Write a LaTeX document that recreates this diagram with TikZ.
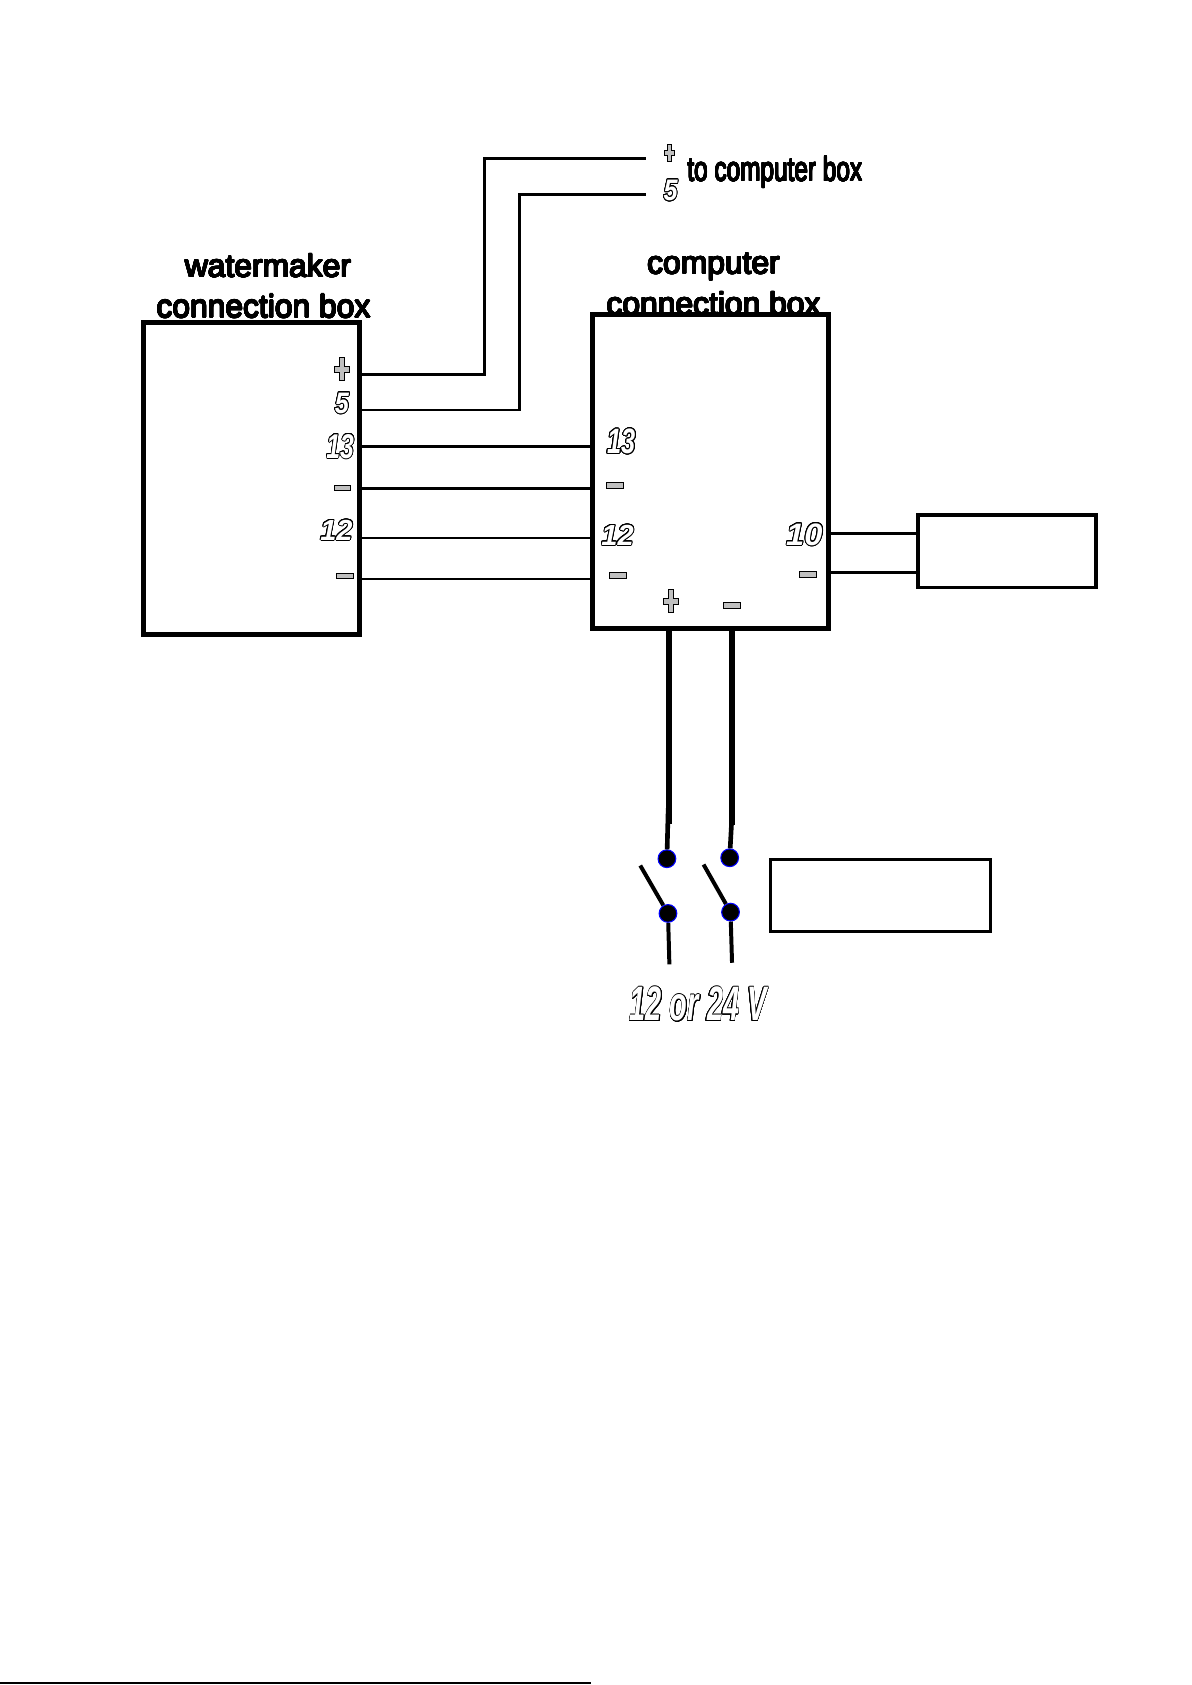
\documentclass[tikz,border=0pt]{standalone}
\usepackage{fontspec}
\setmainfont{Liberation Sans}
\usepackage{graphicx}
\usepackage{contour}
\contournumber{24}
\definecolor{termgray}{HTML}{C0C0C0}
\definecolor{dotblue}{HTML}{0000FF}
\newcommand{\outlbl}[3]{{\fontsize{#1}{#1}\selectfont\bfseries\itshape\contourlength{0.85pt}\scalebox{#2}[1]{\textcolor{white}{\contour{black}{#3}}}}}
\newcommand{\ttl}[2]{{\fontsize{#1}{#1}\selectfont\contourlength{0.55pt}\contour{black}{#2}}}
\tikzset{
  wire/.style={line width=2.6pt},
  boxline/.style={draw=black, line width=4.5pt, fill=white, rectangle, inner sep=0pt},
  thinbox/.style={draw=black, fill=white, rectangle, inner sep=0pt},
  minusmk/.style={draw=black, line width=0.8pt, fill=termgray, rectangle, minimum width=15.5pt, minimum height=5pt, inner sep=0pt},
  lbl/.style={inner sep=0pt, anchor=base},
  swdot/.style={circle, fill=black, draw=dotblue, line width=1pt, minimum size=16.5pt, inner sep=0pt},
  plusmk/.pic={\draw[line width=0.8pt, fill=termgray] (-2.1,-10.5) -- (2.1,-10.5) -- (2.1,-2.8) -- (6.7,-2.8) -- (6.7,2.8) -- (2.1,2.8) -- (2.1,10.5) -- (-2.1,10.5) -- (-2.1,2.8) -- (-6.7,2.8) -- (-6.7,-2.8) -- (-2.1,-2.8) -- cycle;}
}
\begin{document}
\begin{tikzpicture}[x=1pt, y=-1pt]
\useasboundingbox (0,0) rectangle (1108.3,1568);

% titles
\node[lbl] (t1) at (249.4,258) {\ttl{29.6}{watermaker}};
\node[lbl] (t2) at (245.2,295.5) {\ttl{29.6}{connection box}};
\node[lbl] (t3) at (664,254.6) {\ttl{29.6}{computer}};
\node[lbl] (t4) at (664,293) {\ttl{29.6}{connection box}};

% boxes
\node[boxline, minimum width=201.2pt, minimum height=290.5pt] (wm) at (234.2,445.55) {};
\node[boxline, minimum width=219.5pt, minimum height=292.3pt] (cb) at (661.25,438.85) {};
\node[thinbox, line width=3.5pt, minimum width=165.5pt, minimum height=67.5pt] (rr) at (937.05,512.95) {};
\node[thinbox, line width=2.7pt, minimum width=204.6pt, minimum height=67pt] (lr) at (819.3,833.5) {};

% top wire ends and label
\coordinate (top1) at (601,147.6);
\coordinate (top2) at (601,181.2);
\pic at (623,142.5) [scale=0.74] {plusmk};
\node[lbl] (top5) at (624,186.5) {\outlbl{27.6}{0.85}{5}};
\node[inner sep=0pt, anchor=base west] (tcb) at (639.5,168.5) {\scalebox{0.72}[1]{\ttl{31.5}{to computer box}}};

% wires from watermaker box
\draw[wire] (wm.east |- 0,348.3) -| (450.5,147.6) -- (top1);
\draw[wire] (wm.east |- 0,381.6) -| (483.6,181.2) -- (top2);
\draw[wire] (wm.east |- 0,415.2) -- (cb.west |- 0,415.2);
\draw[wire] (wm.east |- 0,454.4) -- (cb.west |- 0,454.4);
\draw[wire] (wm.east |- 0,500.7) -- (cb.west |- 0,500.7);
\draw[wire] (wm.east |- 0,538.8) -- (cb.west |- 0,538.8);
\draw[wire] (cb.east |- 0,496.3) -- (rr.west |- 0,496.3);
\draw[wire] (cb.east |- 0,532.9) -- (rr.west |- 0,532.9);

% watermaker terminals
\pic at (318,343.4) {plusmk};
\node[lbl] (w5) at (318.1,384.5) {\outlbl{27.6}{0.85}{5}};
\node[lbl] (w13) at (316.6,426.3) {\outlbl{32}{0.72}{13}};
\node[minusmk] (wm1) at (318.5,454.1) {};
\node[lbl] (w12) at (313.1,502.6) {\outlbl{27}{1.0}{12}};
\node[minusmk] (wm2) at (320.9,535.7) {};

% computer terminals
\node[lbl] (c13) at (578.4,422) {\outlbl{32.8}{0.72}{13}};
\node[minusmk] (cm1) at (572.3,451.8) {};
\node[lbl] (c12) at (574.7,507.3) {\outlbl{27}{1.0}{12}};
\node[minusmk] (cm2) at (575.1,535.5) {};
\node[lbl] (c10) at (748.5,507.3) {\outlbl{28.9}{1.05}{10}};
\node[minusmk] (cm3) at (751.9,534.5) {};
\pic at (624.2,559.4) {plusmk};
\node[minusmk] (cm4) at (681.2,563.4) {};

% switches
\node[swdot] (d1) at (620.6,799.1) {};
\node[swdot] (d2) at (679,798.2) {};
\node[swdot] (d3) at (621.6,850) {};
\node[swdot] (d4) at (679.8,848.8) {};
\coordinate (b1) at (595.8,805.4);
\coordinate (b2) at (654.7,804.5);
\coordinate (e1) at (622.9,897.4);
\coordinate (e2) at (681.2,895.9);

\draw[line width=5.5pt] (cb.south -| 622.9,0) -- (622.9,766.8);
\draw[line width=5.6pt] (cb.south -| 681.2,0) -- (681.2,767.7);
\draw[line width=4.3pt] (621.8,752) -- (d1);
\draw[line width=4.3pt] (680.7,767) -- (d2);
\draw[line width=3.7pt] (b1) -- (d3);
\draw[line width=3.7pt] (b2) -- (d4);
\draw[line width=3.7pt] (d3) -- (e1);
\draw[line width=3.7pt] (d4) -- (e2);

\node[lbl] (volt) at (649.7,950) {\outlbl{45}{0.6}{12 or 24 V}};

% bottom edge line
\coordinate (bl1) at (0,1566.5);
\coordinate (bl2) at (550,1566.5);
\draw[line width=2pt] (bl1) -- (bl2);
\end{tikzpicture}
\end{document}
